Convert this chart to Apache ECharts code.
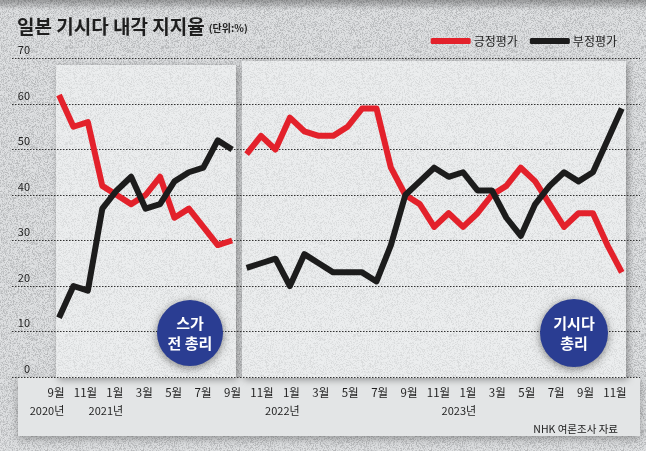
<!DOCTYPE html>
<html><head><meta charset="utf-8">
<script src="https://cdn.jsdelivr.net/npm/echarts@6/dist/echarts.min.js"></script>
<style>html,body{margin:0;padding:0;background:#d9dbdd}#c{width:646px;height:451px}</style>
</head><body><div id="c"></div>
<script>
// ---- data ----
const months = ['2020-09','2020-10','2020-11','2020-12',
 '2021-01','2021-02','2021-03','2021-04','2021-05','2021-06','2021-07','2021-08','2021-09','2021-10','2021-11','2021-12',
 '2022-01','2022-02','2022-03','2022-04','2022-05','2022-06','2022-07','2022-08','2022-09','2022-10','2022-11','2022-12',
 '2023-01','2023-02','2023-03','2023-04','2023-05','2023-06','2023-07','2023-08','2023-09','2023-10','2023-11','2023-12'];
const monthLabels = ['9월','10월','11월','12월',
 '1월','2월','3월','4월','5월','6월','7월','8월','9월','10월','11월','12월',
 '1월','2월','3월','4월','5월','6월','7월','8월','9월','10월','11월','12월',
 '1월','2월','3월','4월','5월','6월','7월','8월','9월','10월','11월','12월'];
const yearLabels = ['2020년','','','',
 '2021년','','','','','','','','','','','',
 '2022년','','','','','','','','','','','',
 '2023년','','','','','','','','','','',''];
// Suga cabinet (2020-09 .. 2021-09)
const sugaApprove    = [62,55,56,42,40,38,40,44,35,37,33,29,30];
const sugaDisapprove = [13,20,19,37,41,44,37,38,43,45,46,52,50];
// Kishida cabinet (2021-10 .. 2023-12)
const kishidaApprove    = [49,53,50,57,54,53,53,55,59,59,46,40,38,33,36,33,36,40,42,46,43,38,33,36,36,29,23];
const kishidaDisapprove = [24,25,26,20,27,25,23,23,23,21,29,40,43,46,44,45,41,41,35,31,38,42,45,43,45,52,59];
const yTicks = [0,10,20,30,40,50,60,70];

// ---- build ----
const nS = sugaApprove.length;
const pad = (arr, before, total) => {
  const out = new Array(total).fill(null);
  arr.forEach((v,i)=>{ out[before+i] = v; });
  return out;
};
const N = months.length;

// subtle paper texture (decorative)
function texture(base, amp){
  const cv = document.createElement('canvas'); cv.width = 96; cv.height = 96;
  const ctx = cv.getContext('2d');
  ctx.fillStyle = base; ctx.fillRect(0,0,96,96);
  let s = 12345;
  for (let y=0;y<96;y++) for (let x=0;x<96;x++){
    s = (s*1103515245 + 12345) & 0x7fffffff;
    const d = ((s>>8)%1000)/1000;
    if (d>0.5){ ctx.fillStyle = 'rgba(255,255,255,'+(amp*(d-0.5)*2)+')'; }
    else { ctx.fillStyle = 'rgba(0,0,0,'+(amp*0.5*(0.5-d)*2)+')'; }
    ctx.fillRect(x,y,1,1);
  }
  return cv;
}
const bgTex = texture('#d6d8da', 0.3);
const panelTex = texture('#eaeced', 0.15);

const FONT = '"Noto Sans CJK KR", "Noto Sans", sans-serif';
const RED = '#e3212b', BLACK = '#1c1c1c';

const chart = echarts.init(document.getElementById('c'), null, {renderer:'canvas'});
const gTop = 58.5, gBottom = 74;
const option = {
  animation: false,
  textStyle: { fontFamily: FONT },
  title: [
    { text: '{a|일본 기시다 내각 지지율} {b|(단위:%)}', left: 12, top: 12,
      textStyle: { rich: {
        a: { fontSize: 19, fontWeight: 'bold', color: '#1e1e1e', fontFamily: FONT },
        b: { fontSize: 10, color: '#222', fontFamily: FONT, padding: [4,0,0,0] } } } },
    { text: 'NHK 여론조사 자료', right: 23, top: 419,
      textStyle: { fontSize: 10.5, fontWeight: 'normal', color: '#222', fontFamily: FONT } }
  ],
  legend: {
    data: ['긍정평가','부정평가'], right: 24, top: 30, icon: 'roundRect',
    itemWidth: 40, itemHeight: 6, itemGap: 12,
    textStyle: { fontSize: 12, color: '#1e1e1e', fontFamily: FONT, padding: [0,0,0,-2] }
  },
  graphic: [
    { type:'rect', shape:{x:0,y:0,width:646,height:451}, style:{fill:{image:bgTex, repeat:'repeat'}}, z:-100, silent:true },
    { type:'rect', shape:{x:0,y:0,width:646,height:10}, style:{fill:new echarts.graphic.LinearGradient(0,0,0,1,[{offset:0,color:'rgba(0,0,0,0.30)'},{offset:1,color:'rgba(0,0,0,0)'}])}, z:-99, silent:true },
    { type:'rect', shape:{x:18,y:377,width:622,height:59}, style:{fill:'#e3e5e6', shadowBlur:8, shadowColor:'rgba(0,0,0,0.3)', shadowOffsetY:3}, z:-98, silent:true },
    { type:'rect', shape:{x:56,y:65,width:180,height:313}, style:{fill:{image:panelTex, repeat:'repeat'}, shadowBlur:7, shadowColor:'rgba(0,0,0,0.35)', shadowOffsetX:2, shadowOffsetY:2}, z:-97, silent:true },
    { type:'rect', shape:{x:242,y:61,width:384,height:317}, style:{fill:{image:panelTex, repeat:'repeat'}, shadowBlur:7, shadowColor:'rgba(0,0,0,0.35)', shadowOffsetX:2, shadowOffsetY:2}, z:-97, silent:true },
    { type:'group', x:190, y:333, z:100, children:[
      { type:'circle', shape:{cx:0,cy:0,r:33}, style:{fill:'#2a3d92', shadowBlur:8, shadowColor:'rgba(0,0,0,0.45)', shadowOffsetY:2}, z:100 },
      { type:'text', x:0, y:0, style:{text:'스가\n전 총리', fill:'#fff', font:'bold 15px '+FONT, align:'center', verticalAlign:'middle', lineHeight:20}, z:101 }
    ]},
    { type:'group', x:574, y:333, z:100, children:[
      { type:'circle', shape:{cx:0,cy:0,r:34}, style:{fill:'#2a3d92', shadowBlur:8, shadowColor:'rgba(0,0,0,0.45)', shadowOffsetY:2}, z:100 },
      { type:'text', x:0, y:0, style:{text:'기시다\n총리', fill:'#fff', font:'bold 15px '+FONT, align:'center', verticalAlign:'middle', lineHeight:20}, z:101 }
    ]}
  ],
  grid: [
    { left: 59, right: 24.2, top: gTop, bottom: gBottom },
    { left: 12, right: 6, top: gTop, bottom: gBottom },
    { left: 56, right: 16.3, top: gTop, bottom: gBottom },
    { left: 47, right: 25.3, top: gTop, bottom: gBottom }
  ],
  xAxis: [
    { gridIndex:0, type:'category', data: months, boundaryGap:false, show:false },
    { gridIndex:1, type:'category', data: months, show:false },
    { gridIndex:2, type:'category', data: monthLabels, boundaryGap:false,
      axisLine:{show:false}, axisTick:{show:false}, splitLine:{show:false},
      axisLabel:{ interval:1, margin:10, fontSize:11.5, color:'#1e1e1e', fontFamily:FONT } },
    { gridIndex:3, type:'category', data: yearLabels, boundaryGap:false,
      axisLine:{show:false}, axisTick:{show:false}, splitLine:{show:false},
      axisLabel:{ interval:0, margin:28, fontSize:11, color:'#1e1e1e', fontFamily:FONT } }
  ],
  yAxis: [
    { gridIndex:0, type:'value', min:yTicks[0], max:yTicks[yTicks.length-1], interval:10, show:false },
    { gridIndex:1, type:'value', min:yTicks[0], max:yTicks[yTicks.length-1], interval:10,
      axisLine:{show:false}, axisTick:{show:false},
      splitLine:{ show:true, lineStyle:{ color:'#333', width:1, type:[1.5,1.5] } },
      axisLabel:{ inside:true, align:'right', margin:18, verticalAlign:'bottom', padding:[0,0,3,0], fontSize:11, color:'#222', fontFamily:FONT } },
    { gridIndex:2, type:'value', min:0, max:70, show:false },
    { gridIndex:3, type:'value', min:0, max:70, show:false }
  ],
  series: [
    { name:'긍정평가', type:'line', xAxisIndex:0, yAxisIndex:0, data: pad(sugaApprove,0,N), symbol:'none', z:5,
      lineStyle:{ color:RED, width:6, join:'round', cap:'butt' }, itemStyle:{color:RED} },
    { name:'부정평가', type:'line', xAxisIndex:0, yAxisIndex:0, data: pad(sugaDisapprove,0,N), symbol:'none', z:6,
      lineStyle:{ color:BLACK, width:6, join:'round', cap:'butt' }, itemStyle:{color:BLACK} },
    { name:'긍정평가', type:'line', xAxisIndex:0, yAxisIndex:0, data: pad(kishidaApprove,nS,N), symbol:'none', z:5,
      lineStyle:{ color:RED, width:6, join:'round', cap:'butt' }, itemStyle:{color:RED} },
    { name:'부정평가', type:'line', xAxisIndex:0, yAxisIndex:0, data: pad(kishidaDisapprove,nS,N), symbol:'none', z:6,
      lineStyle:{ color:BLACK, width:6, join:'round', cap:'butt' }, itemStyle:{color:BLACK} }
  ]
};
chart.setOption(option);
</script>
</body></html>
